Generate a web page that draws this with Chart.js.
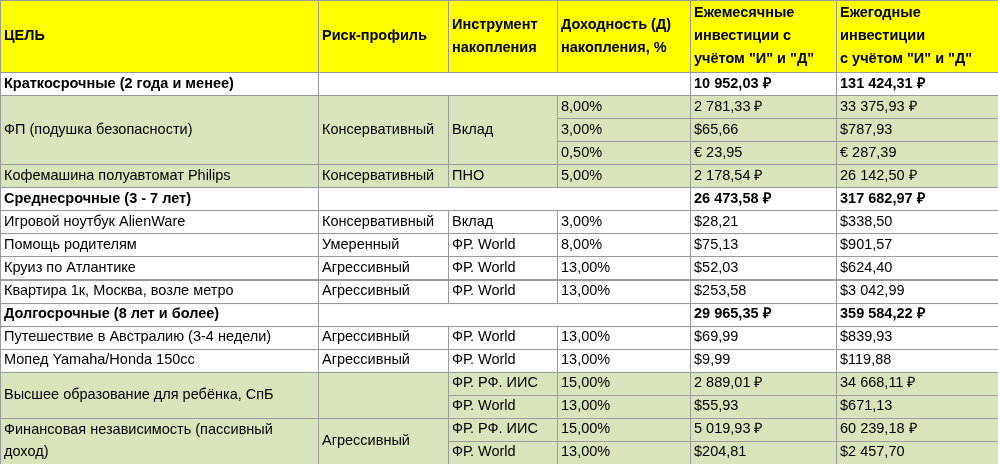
<!DOCTYPE html><html><head><meta charset="utf-8">
<script src="https://cdn.jsdelivr.net/npm/chart.js@4/dist/chart.umd.min.js"></script>
<style>html,body{margin:0;padding:0;background:#fff}#w{width:998px;height:464px}</style></head>
<body><div id="w"><canvas id="c"></canvas></div><script>
const headers=["ЦЕЛЬ","Риск-профиль","Инструмент\nнакопления","Доходность (Д)\nнакопления, %","Ежемесячные\nинвестиции с\nучётом \"И\" и \"Д\"","Ежегодные\nинвестиции\nс учётом \"И\" и \"Д\""];
// each row: [goal, risk, instrument, yield, monthly, yearly, type]  type: s=section, g=green, n=normal
const goals=["Краткосрочные (2 года и менее)","ФП (подушка безопасности)","","","Кофемашина полуавтомат Philips","Среднесрочные (3 - 7 лет)","Игровой ноутбук AlienWare","Помощь родителям","Круиз по Атлантике","Квартира 1к, Москва, возле метро","Долгосрочные (8 лет и более)","Путешествие в Австралию (3-4 недели)","Мопед Yamaha/Honda 150cc","Высшее образование для ребёнка, СпБ","","Финансовая независимость (пассивный\nдоход)",""];
const risks=["","Консервативный","","","Консервативный","","Консервативный","Умеренный","Агрессивный","Агрессивный","","Агрессивный","Агрессивный","","","Агрессивный",""];
const instruments=["","Вклад","","","ПНО","","Вклад","ФР. World","ФР. World","ФР. World","","ФР. World","ФР. World","ФР. РФ. ИИС","ФР. World","ФР. РФ. ИИС","ФР. World"];
const yields=["","8,00%","3,00%","0,50%","5,00%","","3,00%","8,00%","13,00%","13,00%","","13,00%","13,00%","15,00%","13,00%","15,00%","13,00%"];
const monthly=["10 952,03 ₽","2 781,33 ₽","$65,66","€ 23,95","2 178,54 ₽","26 473,58 ₽","$28,21","$75,13","$52,03","$253,58","29 965,35 ₽","$69,99","$9,99","2 889,01 ₽","$55,93","5 019,93 ₽","$204,81"];
const yearly=["131 424,31 ₽","33 375,93 ₽","$787,93","€ 287,39","26 142,50 ₽","317 682,97 ₽","$338,50","$901,57","$624,40","$3 042,99","359 584,22 ₽","$839,93","$119,88","34 668,11 ₽","$671,13","60 239,18 ₽","$2 457,70"];
const rowType=["s","g","g","g","g","s","n","n","n","n","s","n","n","g","g","g","g"];
// vertical merges for columns 0-2: [startRow, span]
const merges=[[1,3],[13,2],[15,2]];
const colEdges=[0,318,448,557,690,836,998];
const headerH=72, rowH=(464-72)/17;
const GREEN="#d8e4bc", YEL="#ffff00";
const plugin={id:"tbl",afterDraw(ch){
 const X=v=>ch.scales.x.getPixelForValue(v), Y=v=>ch.scales.y.getPixelForValue(v), c=ch.ctx;
 c.save();c.textBaseline="middle";
 const cell=(c0,c1,r0,r1,fill,txt,bold)=>{
  const x0=X(colEdges[c0]),x1=X(colEdges[c1]),y0=Y(r0),y1=Y(r1);
  if(fill){c.fillStyle=fill;c.fillRect(x0,y0,x1-x0,y1-y0);}
  c.strokeStyle="#9a9a9a";c.lineWidth=1;c.strokeRect(Math.round(x0)+0.5,Math.round(y0)+0.5,x1-x0,y1-y0);
  if(txt){c.fillStyle="#000";c.font=(bold?"bold ":"")+"14.5px 'Liberation Sans', Arial";
   const L=txt.split("\n"),lh=bold&&r0===0?23:22;const cy=(y0+y1)/2;
   L.forEach((t,i)=>c.fillText(t,x0+4,cy+(i-(L.length-1)/2)*lh));}
 };
 for(let i=0;i<6;i++)cell(i,i+1,0,headerH,YEL,headers[i],true);
 for(let r=0;r<17;r++){
  const t=rowType[r],y0=headerH+r*rowH,y1=y0+rowH,f=t==="g"?GREEN:null;
  if(t==="s"){cell(0,1,y0,y1,null,goals[r],true);cell(1,4,y0,y1,null,"",false);
   cell(4,5,y0,y1,null,monthly[r],true);cell(5,6,y0,y1,null,yearly[r],true);continue;}
  for(let k=0;k<3;k++){
   const m=merges.find(m=>r>=m[0]&&r<m[0]+m[1]);
   const vals=[goals,risks,instruments];
   if(m&&k<2){if(r===m[0])cell(k,k+1,y0,y0+m[1]*rowH,f,vals[k][r],false);continue;}
   if(m&&k===2&&m[0]===1){if(r===m[0])cell(k,k+1,y0,y0+3*rowH,f,vals[k][r],false);continue;}
   cell(k,k+1,y0,y1,f,vals[k][r],false);}
  cell(3,4,y0,y1,f,yields[r],false);cell(4,5,y0,y1,f,monthly[r],false);cell(5,6,y0,y1,f,yearly[r],false);
 }
 c.restore();}};
new Chart(document.getElementById("c"),{type:"scatter",data:{datasets:[{data:[]}]},
 options:{responsive:true,maintainAspectRatio:false,animation:false,layout:{padding:0},
 plugins:{legend:{display:false},tooltip:{enabled:false}},
 scales:{x:{type:"linear",min:0,max:998,display:false},y:{type:"linear",min:0,max:464,reverse:true,display:false}}},
 plugins:[plugin]});
</script></body></html>
